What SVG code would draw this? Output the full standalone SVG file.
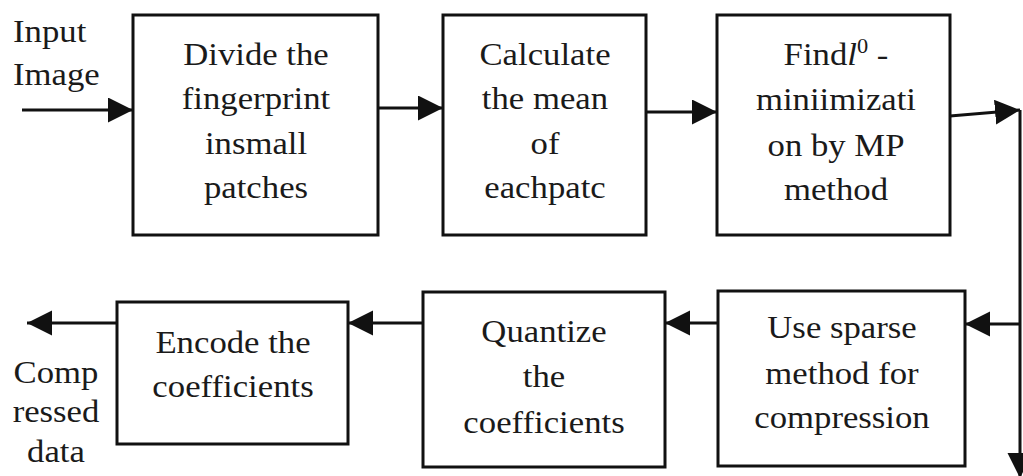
<svg xmlns="http://www.w3.org/2000/svg" width="1023" height="476" viewBox="0 0 1023 476">
<style>
.box{fill:#fff;stroke:#111;stroke-width:3}
.t{font-size:31px;fill:#1a1a1a;text-anchor:middle}
.l{text-anchor:start}
.c{fill:none;stroke:#111;stroke-width:3}
</style>
<defs>
<marker id="ah" markerUnits="userSpaceOnUse" markerWidth="26" markerHeight="26" refX="25" refY="12.5" orient="auto">
<path d="M0,0 L25,12.5 L0,25 z" fill="#111"/>
</marker>
</defs>
<rect width="1023" height="476" fill="#fff"/>
<g id="connectors">
<path class="c" d="M22,110 L133,110" marker-end="url(#ah)"/>
<path class="c" d="M378,108 L443,108" marker-end="url(#ah)"/>
<path class="c" d="M646,112 L717,112" marker-end="url(#ah)"/>
<path class="c" d="M950,116 L1020,110" marker-end="url(#ah)"/>
<path class="c" d="M1020,110 L1020,478" marker-end="url(#ah)"/>
<path class="c" d="M1020,324 L965,324" marker-end="url(#ah)"/>
<path class="c" d="M718,323 L665,323" marker-end="url(#ah)"/>
<path class="c" d="M423,323 L348,323" marker-end="url(#ah)"/>
<path class="c" d="M117,323 L27,323" marker-end="url(#ah)"/>
</g>
<g font-family="Liberation Serif, Tinos, Times New Roman, Times, Noto Serif, DejaVu Serif, FreeSerif, Nimbus Roman, serif">
<g id="input-label" transform="translate(13,0) scale(1.12,1)">
<text class="t l" x="0" y="42">Input</text>
<text class="t l" x="0" y="85">Image</text>
</g>
<g id="output-label" transform="translate(56,0) scale(1.12,1)">
<text class="t" x="0" y="383">Comp</text>
<text class="t" x="0" y="422">ressed</text>
<text class="t" x="0" y="462">data</text>
</g>
<g id="divide">
<rect class="box" x="133" y="15" width="245" height="220"/>
<g transform="translate(256,0) scale(1.12,1)">
<text class="t" x="0" y="65">Divide the</text>
<text class="t" x="0" y="109">fingerprint</text>
<text class="t" x="0" y="154">insmall</text>
<text class="t" x="0" y="198">patches</text>
</g>
</g>
<g id="calculate">
<rect class="box" x="443" y="15" width="203" height="220"/>
<g transform="translate(545,0) scale(1.12,1)">
<text class="t" x="0" y="65">Calculate</text>
<text class="t" x="0" y="109">the mean</text>
<text class="t" x="0" y="154">of</text>
<text class="t" x="0" y="198">eachpatc</text>
</g>
</g>
<g id="find">
<rect class="box" x="717" y="15" width="233" height="220"/>
<g transform="translate(836,0) scale(1.12,1)">
<text class="t" x="0" y="65">Find<tspan font-style="italic">l</tspan><tspan font-size="20" dy="-12">0</tspan><tspan dy="12"> -</tspan></text>
<text class="t" x="0" y="110">miniimizati</text>
<text class="t" x="0" y="156">on by MP</text>
<text class="t" x="0" y="200">method</text>
</g>
</g>
<g id="use-sparse">
<rect class="box" x="718" y="291" width="247" height="175"/>
<g transform="translate(842,0) scale(1.12,1)">
<text class="t" x="0" y="338">Use sparse</text>
<text class="t" x="0" y="384">method for</text>
<text class="t" x="0" y="428">compression</text>
</g>
</g>
<g id="quantize">
<rect class="box" x="423" y="292" width="242" height="175"/>
<g transform="translate(544,0) scale(1.12,1)">
<text class="t" x="0" y="342">Quantize</text>
<text class="t" x="0" y="387">the</text>
<text class="t" x="0" y="433">coefficients</text>
</g>
</g>
<g id="encode">
<rect class="box" x="117" y="302" width="231" height="142"/>
<g transform="translate(233,0) scale(1.12,1)">
<text class="t" x="0" y="353">Encode the</text>
<text class="t" x="0" y="397">coefficients</text>
</g>
</g>
</g>
</svg>
